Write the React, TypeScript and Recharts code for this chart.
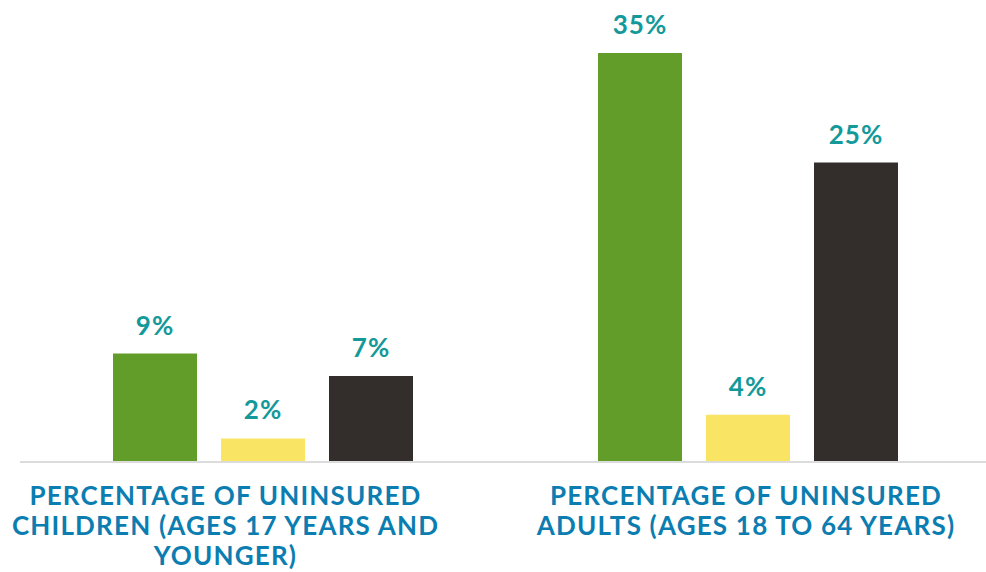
import { BarChart, Bar, XAxis, YAxis, LabelList } from "recharts";

const categories = ["children", "adults"];
const labelLines = [
  ["PERCENTAGE OF UNINSURED", "CHILDREN (AGES 17 YEARS AND", "YOUNGER)"],
  ["PERCENTAGE OF UNINSURED", "ADULTS (AGES 18 TO 64 YEARS)"],
];
const seriesGreen = [9.2, 34.7];
const seriesYellow = [2.0, 4.0];
const seriesDark = [7.3, 25.4];

const data = categories.map((c, i) => ({
  name: c,
  green: seriesGreen[i],
  yellow: seriesYellow[i],
  dark: seriesDark[i],
}));

const FONT = "Lato, 'Open Sans', sans-serif";
const TEAL = "#14999a";
const BLUE = "#0b7db1";

const tickShift = [-37, -1.5];

const CategoryTick = (props: any) => {
  const { x, y, index } = props;
  const lines = labelLines[index] ?? [];
  return (
    <g>
      {lines.map((line, i) => (
        <text
          key={i}
          x={x + tickShift[index]}
          y={y + 43 + i * 30}
          textAnchor="middle"
          fill={BLUE}
          fontFamily={FONT}
          fontWeight={700}
          fontSize={26}
          letterSpacing={1.2}
        >
          {line}
        </text>
      ))}
    </g>
  );
};

const ValueLabel = (props: any) => {
  const { x, y, width, value } = props;
  return (
    <text
      x={x + width / 2}
      y={y - 19}
      textAnchor="middle"
      fill={TEAL}
      fontFamily={FONT}
      fontWeight={700}
      fontSize={26}
      letterSpacing={1}
    >
      {Math.round(value)}%
    </text>
  );
};

export default function App() {
  return (
    <div
      style={{
        position: "fixed",
        top: 0,
        left: 0,
        width: 986,
        height: 572,
        overflow: "hidden",
        background: "#fff",
      }}
    >
      <BarChart
        width={990}
        height={572}
        data={data}
        margin={{ top: 14, right: 0, left: 20, bottom: 0 }}
        barSize={84}
        barGap={24}
      >
        <XAxis
          dataKey="name"
          axisLine={{ stroke: "#dcdcdc", strokeWidth: 2 }}
          tickLine={false}
          tickSize={0}
          tickMargin={0}
          tick={<CategoryTick />}
          interval={0}
          height={110}
        />
        <YAxis hide domain={[0, 38]} />
        <Bar dataKey="green" fill="#629d2a" isAnimationActive={false}>
          <LabelList dataKey="green" content={<ValueLabel />} />
        </Bar>
        <Bar dataKey="yellow" fill="#f9e464" isAnimationActive={false}>
          <LabelList dataKey="yellow" content={<ValueLabel />} />
        </Bar>
        <Bar dataKey="dark" fill="#332e2c" isAnimationActive={false}>
          <LabelList dataKey="dark" content={<ValueLabel />} />
        </Bar>
      </BarChart>
    </div>
  );
}
